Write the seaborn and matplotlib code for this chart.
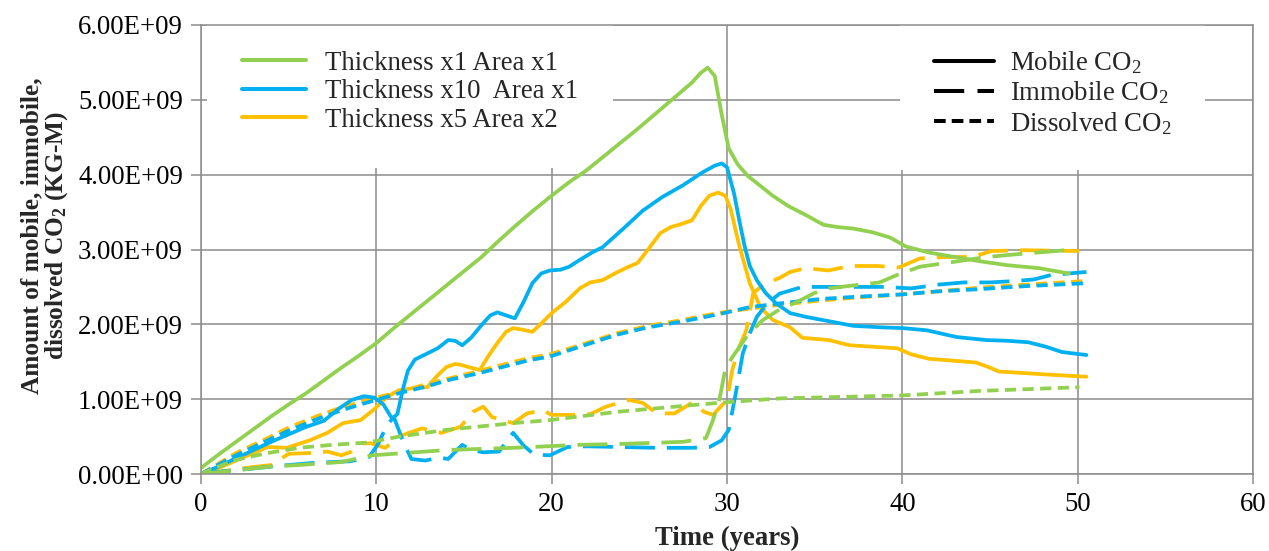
import numpy as np
import pandas as pd
import matplotlib
matplotlib.use("Agg")
import matplotlib.pyplot as plt
from matplotlib.lines import Line2D
from matplotlib.ticker import FuncFormatter
import seaborn as sns

# ---- data (amounts in units of 1E+09 kg-mol) ----
cases = ["Thickness x1 Area x1", "Thickness x10  Area x1", "Thickness x5 Area x2"]
phases = ["Mobile", "Immobile", "Dissolved"]

# Thickness x1 Area x1
g_mob_t = [0, 1, 2, 3, 4, 5, 6, 7, 8, 9, 10, 11, 12, 13, 14, 15, 16, 17, 18, 19, 20,
           21, 22, 23, 24, 25, 26, 27, 28, 28.5, 28.9, 29.3, 29.7, 30.1, 30.6, 31.2,
           31.8, 32.6, 33.5, 34.5, 35.5, 36.3, 37.2, 38.3, 39.3, 40.2, 41.5, 43, 44.5,
           46, 47.8, 49.5]
g_mob_v = [0.08, 0.26, 0.43, 0.60, 0.77, 0.93, 1.08, 1.25, 1.42, 1.58, 1.75, 1.95,
           2.14, 2.33, 2.52, 2.71, 2.90, 3.12, 3.33, 3.53, 3.72, 3.90, 4.06, 4.25, 4.44,
           4.63, 4.83, 5.03, 5.23, 5.36, 5.43, 5.32, 4.80, 4.35, 4.14, 3.98, 3.87, 3.72,
           3.58, 3.46, 3.33, 3.30, 3.28, 3.23, 3.16, 3.04, 2.96, 2.90, 2.84, 2.79, 2.75,
           2.68]
g_imm_t = [0, 2, 4, 5.6, 8, 9.8, 14, 17.8, 21.6, 23.7, 27.5, 28.8, 29.2, 29.6, 29.9,
           30.3, 31.1, 32, 33, 34, 35, 35.8, 37.2, 38.7, 39.7, 41, 42.8, 44.8, 46.7, 49.3]
g_imm_v = [0, 0.05, 0.10, 0.12, 0.16, 0.25, 0.32, 0.35, 0.39, 0.40, 0.43, 0.48, 0.72,
           1.03, 1.40, 1.56, 1.83, 2.05, 2.20, 2.30, 2.42, 2.48, 2.52, 2.56, 2.66, 2.77,
           2.83, 2.90, 2.94, 2.99]
g_dis_t = [0, 1, 2, 3.8, 5.6, 7.5, 9.5, 11.3, 14, 17.8, 19.9, 23.7, 27.5, 30, 33, 40,
           44.4, 50.1]
g_dis_v = [0, 0.10, 0.19, 0.28, 0.35, 0.39, 0.42, 0.50, 0.59, 0.68, 0.72, 0.83, 0.91,
           0.96, 1.01, 1.05, 1.11, 1.16]

# Thickness x10 Area x1
b_mob_t = [0, 1, 2, 3, 4, 5, 6, 7, 7.9, 8.6, 9.3, 9.9, 10.4, 10.9, 11.2, 11.5, 11.8,
           12.2, 12.9, 13.5, 14.1, 14.5, 14.9, 15.4, 16, 16.5, 16.9, 17.4, 17.9, 18.4,
           18.9, 19.4, 19.9, 20.5, 21, 21.6, 22.3, 22.9, 24, 25.2, 26.3, 27.5, 28.6,
           29.3, 29.7, 30, 30.4, 30.7, 31, 31.3, 31.7, 32.2, 32.8, 33.6, 34.5, 35.4,
           37.2, 38.8, 40, 41.4, 43.1, 44.8, 46, 47.2, 48.2, 49.1, 50.5]
b_mob_v = [0, 0.10, 0.21, 0.32, 0.43, 0.53, 0.63, 0.71, 0.88, 0.99, 1.04, 1.02, 0.93,
           0.74, 0.80, 1.12, 1.38, 1.53, 1.61, 1.68, 1.79, 1.78, 1.72, 1.82, 1.99, 2.12,
           2.16, 2.12, 2.08, 2.30, 2.55, 2.68, 2.72, 2.73, 2.77, 2.86, 2.96, 3.03, 3.26,
           3.52, 3.70, 3.86, 4.03, 4.12, 4.15, 4.10, 3.75, 3.39, 3.05, 2.78, 2.59, 2.42,
           2.28, 2.15, 2.10, 2.06, 1.98, 1.96, 1.95, 1.92, 1.83, 1.79, 1.78, 1.76, 1.70,
           1.63, 1.59]
b_imm_t = [0, 1, 2.8, 4.5, 6.5, 8.5, 9.6, 10.1, 10.6, 11, 11.5, 12, 12.8, 13.6, 14.1,
           14.9, 15.4, 16.1, 17, 17.8, 18.4, 19, 19.9, 20.9, 22, 24, 26, 28, 29, 29.7,
           30.1, 30.5, 30.9, 31.3, 31.7, 32.3, 33, 34.3, 35, 37, 39, 40.5, 42, 43.5, 45,
           46.5, 47.5, 48.5, 50.5]
b_imm_v = [0, 0.03, 0.07, 0.11, 0.15, 0.17, 0.23, 0.40, 0.65, 0.76, 0.45, 0.20, 0.18,
           0.22, 0.20, 0.39, 0.32, 0.29, 0.30, 0.55, 0.38, 0.26, 0.25, 0.36, 0.37, 0.36,
           0.35, 0.35, 0.36, 0.45, 0.59, 1.08, 1.61, 1.88, 2.10, 2.28, 2.41, 2.50, 2.50,
           2.50, 2.50, 2.48, 2.53, 2.56, 2.56, 2.58, 2.60, 2.66, 2.70]
b_dis_t = [0, 2, 3.8, 5, 6.8, 8, 9.1, 10, 11.3, 12.7, 14.2, 15.9, 17.2, 18.7, 19.9,
           21.6, 23.7, 25.5, 27.5, 29, 30, 31.3, 33, 35.4, 37.5, 40, 42, 44.4, 47, 50.5]
b_dis_v = [0, 0.25, 0.45, 0.58, 0.75, 0.85, 0.93, 0.99, 1.08, 1.16, 1.26, 1.35, 1.43,
           1.52, 1.57, 1.70, 1.86, 1.96, 2.04, 2.11, 2.16, 2.23, 2.28, 2.34, 2.37, 2.40,
           2.44, 2.47, 2.51, 2.55]

# Thickness x5 Area x2
o_mob_t = [0, 1, 2, 3, 3.8, 4.9, 6.2, 7.2, 8.1, 9.1, 9.8, 10.6, 11.3, 12.2, 12.9,
           13.5, 14, 14.5, 14.8, 15.4, 15.9, 16.4, 16.9, 17.4, 17.8, 18.3, 18.9, 19.4,
           20, 20.8, 21.6, 22.2, 22.9, 23.6, 24.3, 24.9, 25.5, 26.2, 26.8, 27.4, 28,
           28.5, 29, 29.5, 29.9, 30.2, 30.7, 31.3, 31.9, 32.6, 33.6, 34.3, 35.8, 37,
           39.7, 40.5, 41.5, 44.2, 44.9, 45.5, 48.2, 50.5]
o_mob_v = [0, 0.08, 0.18, 0.28, 0.36, 0.35, 0.45, 0.55, 0.68, 0.72, 0.85, 1.03, 1.12,
           1.15, 1.16, 1.32, 1.43, 1.47, 1.46, 1.42, 1.39, 1.58, 1.75, 1.90, 1.95, 1.93,
           1.90, 2.01, 2.15, 2.30, 2.48, 2.56, 2.59, 2.68, 2.76, 2.82, 3.00, 3.22, 3.30,
           3.34, 3.39, 3.58, 3.72, 3.76, 3.72, 3.55, 3.05, 2.55, 2.23, 2.06, 1.96, 1.82,
           1.79, 1.72, 1.68, 1.60, 1.54, 1.49, 1.43, 1.37, 1.33, 1.30]
o_imm_t = [0, 1, 2.5, 4, 5, 6.2, 7.2, 8, 8.6, 9.2, 9.7, 10.5, 11.5, 12.6, 13.7, 14.8,
           15.5, 16.1, 16.6, 17.8, 18.6, 19.5, 20, 21, 22.2, 23.1, 24.4, 25.2, 26, 27,
           28, 28.7, 29.2, 30, 30.3, 30.7, 31.1, 31.5, 32.2, 33, 33.6, 34.5, 35.8, 37,
           38.5, 39.8, 41, 42.5, 44, 45.1, 47, 50.1]
o_imm_v = [0, 0.03, 0.08, 0.12, 0.27, 0.28, 0.30, 0.25, 0.30, 0.41, 0.41, 0.35, 0.52,
           0.61, 0.55, 0.63, 0.83, 0.90, 0.76, 0.68, 0.81, 0.85, 0.79, 0.79, 0.80, 0.90,
           0.99, 0.95, 0.81, 0.81, 0.95, 0.83, 0.79, 0.99, 1.39, 1.70, 1.92, 2.42, 2.55,
           2.62, 2.70, 2.75, 2.72, 2.78, 2.78, 2.76, 2.88, 2.90, 2.90, 2.98, 2.99, 2.98]
o_dis_t = [0, 2, 3.8, 5, 6.8, 8, 9.1, 10, 11.3, 12.7, 14.2, 15.9, 17.2, 18.7, 19.9,
           21.6, 23.7, 25.5, 27.5, 29, 30, 31.3, 33, 35.4, 37.5, 40, 42, 44.4, 47, 50.5]
o_dis_v = [0, 0.28, 0.48, 0.62, 0.79, 0.89, 0.96, 1.02, 1.10, 1.19, 1.28, 1.38, 1.46,
           1.55, 1.60, 1.72, 1.88, 1.98, 2.06, 2.13, 2.17, 2.21, 2.26, 2.32, 2.36, 2.40,
           2.44, 2.49, 2.53, 2.58]

x_ticks = [0, 10, 20, 30, 40, 50, 60]
y_ticks = [0, 1, 2, 3, 4, 5, 6]

# ---- assemble a long table for seaborn ----
series = [
    (cases[0], "Mobile", g_mob_t, g_mob_v), (cases[0], "Immobile", g_imm_t, g_imm_v),
    (cases[0], "Dissolved", g_dis_t, g_dis_v),
    (cases[1], "Mobile", b_mob_t, b_mob_v), (cases[1], "Immobile", b_imm_t, b_imm_v),
    (cases[1], "Dissolved", b_dis_t, b_dis_v),
    (cases[2], "Mobile", o_mob_t, o_mob_v), (cases[2], "Immobile", o_imm_t, o_imm_v),
    (cases[2], "Dissolved", o_dis_t, o_dis_v),
]
frames = []
for case, phase, t, v in series:
    frames.append(pd.DataFrame({"time": t, "amount": np.asarray(v) * 1e9,
                                "case": case, "phase": phase}))
df = pd.concat(frames, ignore_index=True)

palette = {cases[0]: "#92D050", cases[1]: "#00B0F0", cases[2]: "#FFC000"}
dash_map = {"Mobile": "", "Immobile": (8.0, 3.2), "Dissolved": (3.0, 1.7)}

# ---- styling ----
sns.set_theme(style="white")
plt.rcParams["font.family"] = ["Liberation Serif", "DejaVu Serif"]
plt.rcParams["mathtext.fontset"] = "custom"
plt.rcParams["mathtext.rm"] = "Liberation Serif"
plt.rcParams["mathtext.default"] = "regular"

FS = 19.3
W, H = 1269, 551
fig = plt.figure(figsize=(W / 100, H / 100), dpi=100)
ax = fig.add_axes([201 / W, 77 / H, 1052 / W, 449 / H])

grid_c = "#8C8C8C"
LW = 2.7

# draw in reverse so the first case sits on top
for case in cases[::-1]:
    sub = df[df["case"] == case]
    sns.lineplot(data=sub, x="time", y="amount", hue="case", style="phase",
                 palette=palette, dashes=dash_map, style_order=phases,
                 estimator=None, sort=True, linewidth=LW, legend=False, ax=ax)

ax.set_xlim(0, 60)
ax.set_ylim(0, 6e9)
ax.set_xticks(x_ticks)
ax.set_yticks([v * 1e9 for v in y_ticks])
ax.yaxis.set_major_formatter(FuncFormatter(lambda v, _: f"{v:.2E}"))
ax.grid(True, color=grid_c, linewidth=1.1)
ax.set_axisbelow(True)
for s in ax.spines.values():
    s.set_color(grid_c)
    s.set_linewidth(1.1)
ax.tick_params(axis="both", which="major", bottom=True, left=True, direction="out",
               length=7, width=1.1, color=grid_c, labelsize=FS, pad=6,
               labelcolor="black")

ax.set_xlabel("Time (years)", fontsize=FS, fontweight="bold", labelpad=6)
ax.set_ylabel("Amount of mobile, immobile,\ndissolved CO$_2$ (KG-M)", fontsize=18.3,
              fontweight="bold", linespacing=0.98)
ax.yaxis.set_label_coords(-0.1245, 0.53)

# ---- legends (white boxes hide the grid but sit beneath the curves) ----
case_handles = [Line2D([], [], color=palette[c], lw=2.9) for c in cases]
leg1 = ax.legend(case_handles, cases, loc="upper left",
                 bbox_to_anchor=(207 / W, 1 - 16 / H), bbox_transform=fig.transFigure,
                 frameon=True, fancybox=False, edgecolor="none", facecolor="white",
                 framealpha=1, fontsize=FS, handlelength=2.4, handletextpad=0.7,
                 labelspacing=0.13, borderpad=1.3, borderaxespad=0)
leg1.set_zorder(1.5)
ax.add_artist(leg1)

phase_handles = [
    Line2D([], [], color="black", lw=2.9),
    Line2D([], [], color="black", lw=2.9, dashes=(7.5, 3.3)),
    Line2D([], [], color="black", lw=2.9, dashes=(2.9, 1.5)),
]
phase_labels = ["Mobile CO$_2$", "Immobile CO$_2$", "Dissolved CO$_2$"]
leg2 = ax.legend(phase_handles, phase_labels, loc="upper left",
                 bbox_to_anchor=(900 / W, 1 - 16 / H), bbox_transform=fig.transFigure,
                 frameon=True, fancybox=False, edgecolor="none", facecolor="white",
                 framealpha=1, fontsize=FS, handlelength=2.25, handletextpad=0.62,
                 labelspacing=0.12, borderpad=1.25, borderaxespad=0)
leg2.set_zorder(1.5)

fig.savefig("out.png", dpi=100)
